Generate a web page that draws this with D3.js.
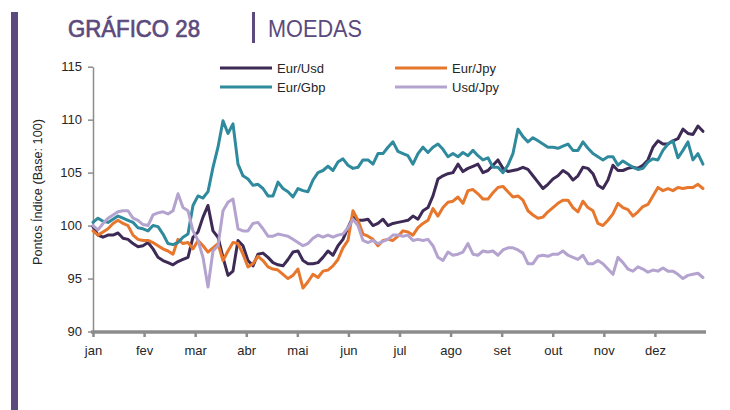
<!DOCTYPE html>
<html>
<head>
<meta charset="utf-8">
<script src="https://cdn.jsdelivr.net/npm/d3@7"></script>
<style>
  body { margin: 0; background: #fff; }
  svg { display: block; }
  text { font-family: "Liberation Sans", Arial, sans-serif; }
</style>
</head>
<body>
<svg width="730" height="410"></svg>
<script>
var meses = ["jan", "fev", "mar", "abr", "mai", "jun", "jul", "ago", "set", "out", "nov", "dez"];
var yTicks = [90, 95, 100, 105, 110, 115];

var series = ["Eur/Usd", "Eur/Jpy", "Eur/Gbp", "Usd/Jpy"];
var cores = ["#3d2b56", "#e8772e", "#2e8a9c", "#b4a3cf"];

// indice (base 100), leituras a cada ~3 dias uteis
var eurUsd = [99.9, 99.1, 98.9, 99.1, 99.1, 99.3, 98.8, 98.7, 98.3, 98.0, 98.1, 98.4, 97.8, 97.0, 96.7, 96.5, 96.3, 96.6, 96.8, 97.0,
  98.9, 99.4, 100.8, 101.9, 99.5, 98.9, 97.0, 95.3, 95.7, 98.6, 98.1, 96.7, 96.2, 97.3, 97.4, 97.0, 96.5, 96.3, 96.2, 96.8,
  97.5, 97.6, 96.7, 96.4, 96.4, 96.5, 97.0, 97.6, 97.2, 98.1, 98.7, 99.8, 100.8, 100.5, 100.5, 100.6, 100.0, 100.2, 100.6, 100.0,
  100.2, 100.3, 100.4, 100.5, 100.9, 100.6, 101.4, 101.7, 102.8, 104.4, 104.7, 104.9, 105.0, 105.8, 105.1, 105.4, 105.6, 105.8, 105.0, 105.2,
  105.7, 106.2, 105.4, 105.1, 105.2, 105.3, 105.5, 105.3, 104.7, 104.1, 103.5, 103.9, 104.4, 104.7, 105.2, 104.9, 104.3, 104.7, 105.5, 105.4,
  104.9, 103.8, 103.5, 104.3, 105.7, 105.2, 105.2, 105.4, 105.5, 105.4, 105.7, 106.2, 107.4, 108.0, 107.7, 107.7, 108.0, 108.2, 109.1, 108.7,
  108.6, 109.4, 108.9];

var eurJpy = [99.5, 99.1, 99.4, 99.7, 100.2, 100.5, 100.2, 100.0, 99.1, 98.7, 98.6, 98.6, 98.4, 98.1, 97.8, 97.6, 97.3, 98.7, 98.3, 98.4,
  97.8, 98.6, 98.1, 97.5, 97.9, 98.3, 96.7, 97.6, 98.4, 98.3, 97.3, 96.1, 96.4, 97.1, 96.7, 96.1, 95.9, 95.8, 95.4, 95.0,
  95.3, 95.9, 94.1, 94.7, 95.4, 95.1, 95.7, 95.8, 96.2, 96.8, 97.9, 98.6, 101.4, 100.5, 99.2, 99.0, 98.7, 98.1, 98.6, 98.7,
  98.6, 99.0, 99.5, 99.4, 99.1, 99.8, 100.2, 100.5, 101.6, 100.9, 101.7, 102.2, 102.3, 102.7, 102.1, 103.3, 103.4, 103.0, 102.5, 102.5,
  103.1, 103.6, 103.7, 103.2, 102.7, 102.8, 102.4, 101.4, 101.0, 100.7, 100.8, 101.3, 101.7, 102.1, 102.4, 102.4, 101.7, 101.3, 102.3, 101.7,
  101.4, 100.2, 100.0, 100.5, 101.1, 102.1, 101.7, 101.5, 100.9, 101.3, 101.8, 102.0, 102.8, 103.6, 103.3, 103.5, 103.3, 103.6, 103.5, 103.6,
  103.6, 103.9, 103.5];

var eurGbp = [100.3, 100.7, 100.4, 100.3, 100.6, 100.9, 100.7, 100.5, 100.3, 99.8, 99.7, 99.5, 100.0, 99.9, 99.2, 98.3, 98.2, 98.4, 98.9, 99.2,
  101.9, 102.8, 102.6, 103.2, 105.5, 107.4, 109.9, 108.7, 109.6, 105.8, 104.7, 104.4, 103.8, 103.9, 103.5, 102.8, 102.8, 104.1, 103.5, 103.2,
  102.7, 103.5, 103.3, 103.2, 104.3, 105.0, 105.2, 105.6, 105.2, 106.0, 106.3, 105.7, 105.4, 105.5, 106.2, 106.2, 105.8, 106.8, 106.8, 107.4,
  107.9, 107.0, 106.8, 106.6, 105.8, 106.8, 107.4, 106.9, 107.4, 107.7, 107.2, 106.5, 106.8, 106.5, 106.9, 106.6, 107.1, 106.6, 106.2, 106.4,
  105.5, 105.5, 105.0, 105.7, 106.8, 109.1, 108.4, 107.9, 108.3, 108.0, 107.7, 107.4, 107.4, 107.3, 107.5, 107.7, 107.1, 107.1, 107.9, 107.3,
  106.8, 106.5, 106.2, 106.5, 106.5, 105.7, 106.1, 105.8, 105.5, 105.3, 105.4, 106.0, 106.3, 106.2, 107.1, 107.7, 108.0, 106.4, 107.1, 107.9,
  106.2, 106.8, 105.8];

var usdJpy = [100.0, 99.6, 100.2, 100.7, 101.0, 101.3, 101.4, 101.4, 100.7, 100.5, 100.1, 100.0, 101.0, 101.2, 101.3, 101.1, 101.4, 103.0, 101.7, 101.4,
  99.5, 98.6, 97.0, 94.2, 97.6, 98.1, 101.4, 102.2, 102.5, 99.7, 99.5, 99.5, 100.2, 100.3, 99.7, 99.0, 99.0, 99.2, 99.1, 99.0,
  98.7, 98.4, 98.1, 98.3, 98.8, 99.1, 98.9, 99.1, 98.9, 99.1, 99.2, 99.8, 100.6, 100.0, 98.6, 98.4, 98.6, 98.3, 98.5, 98.7,
  99.1, 99.1, 99.0, 99.1, 98.6, 98.7, 98.6, 98.7, 98.1, 97.0, 96.7, 97.5, 97.2, 97.3, 97.5, 98.3, 97.3, 97.2, 97.6, 97.5,
  97.6, 97.2, 97.7, 97.9, 97.9, 97.7, 97.4, 96.4, 96.4, 97.1, 97.2, 97.1, 97.3, 97.3, 97.6, 97.2, 97.0, 96.8, 97.2, 96.4,
  96.4, 96.7, 96.4, 95.9, 95.4, 97.0, 96.5, 95.9, 95.7, 96.1, 95.9, 95.6, 95.8, 95.7, 96.0, 95.7, 95.7, 95.4, 95.0, 95.3,
  95.4, 95.5, 95.1];

var valores = [eurUsd, eurJpy, eurGbp, usdJpy];

var svg = d3.select("svg");
var roxo = "#5b4a7d";

// faixa lateral e cabecalho
svg.append("rect").attr("x", 11).attr("y", 12).attr("width", 7).attr("height", 398).attr("fill", roxo);
svg.append("rect").attr("x", 252).attr("y", 12).attr("width", 3).attr("height", 31).attr("fill", roxo);

svg.append("text")
    .attr("x", 68).attr("y", 37)
    .attr("textLength", 132).attr("lengthAdjust", "spacingAndGlyphs")
    .style("font-size", "24px")
    .attr("fill", roxo)
    .attr("stroke", roxo).attr("stroke-width", 0.7)
    .text("GRÁFICO 28");

svg.append("text")
    .attr("x", 268).attr("y", 37)
    .attr("textLength", 94).attr("lengthAdjust", "spacingAndGlyphs")
    .style("font-size", "24px")
    .attr("fill", roxo)
    .text("MOEDAS");

var x = d3.scaleLinear().domain([0, 12]).range([93, 706]);
var y = d3.scaleLinear().domain([90, 115]).range([331.5, 66.7]);

var passo = 11.94 / (eurUsd.length - 1);

// eixo y
var gy = svg.append("g")
    .attr("transform", "translate(93,0)")
    .call(d3.axisLeft(y).tickValues(yTicks).tickSize(5).tickSizeOuter(0).tickPadding(6));
gy.select(".domain").attr("stroke", "#8c8c8c").attr("stroke-width", 1.5);
gy.selectAll(".tick line").attr("stroke", "#8c8c8c").attr("stroke-width", 1.5);
gy.selectAll(".tick text").attr("fill", "#262626").style("font-size", "13px")
    .style("font-family", "'Liberation Sans', Arial, sans-serif");

svg.append("text")
    .attr("transform", "translate(42,192) rotate(-90)")
    .attr("text-anchor", "middle")
    .attr("textLength", 146).attr("lengthAdjust", "spacingAndGlyphs")
    .style("font-size", "12px")
    .attr("fill", "#262626")
    .text("Pontos Índice (Base: 100)");

// linhas
var linha = d3.line()
    .x(function(d, i) { return x(i * passo); })
    .y(function(d) { return y(d); });

valores.forEach(function(serie, s) {
    svg.append("path")
        .datum(serie)
        .attr("fill", "none")
        .attr("stroke", cores[s])
        .attr("stroke-width", 3)
        .attr("stroke-linejoin", "round")
        .attr("stroke-linecap", "round")
        .attr("d", linha);
});

// eixo x
var gx = svg.append("g")
    .attr("transform", "translate(0,332)")
    .call(d3.axisBottom(x).tickValues(d3.range(12)).tickFormat(function(i) { return meses[i]; })
        .tickSize(5).tickSizeOuter(0).tickPadding(9));
gx.select(".domain").attr("stroke", "#8c8c8c").attr("stroke-width", 3.5)
    .attr("d", "M91,0H706");
gx.selectAll(".tick line").attr("stroke", "#8c8c8c").attr("stroke-width", 2.5);
gx.selectAll(".tick text").attr("fill", "#262626").style("font-size", "13px")
    .style("font-family", "'Liberation Sans', Arial, sans-serif");

// legenda
var legPos = [[220, 68], [395, 68], [220, 87], [395, 87]];
series.forEach(function(nome, s) {
    var g = svg.append("g").attr("transform", "translate(" + legPos[s][0] + "," + legPos[s][1] + ")");
    g.append("line").attr("x1", 0).attr("x2", 52).attr("y1", 0).attr("y2", 0)
        .attr("stroke", cores[s]).attr("stroke-width", 3);
    g.append("text").attr("x", 57).attr("y", 4.5)
        .style("font-size", "13px").attr("fill", "#262626")
        .text(nome);
});
</script>
</body>
</html>
